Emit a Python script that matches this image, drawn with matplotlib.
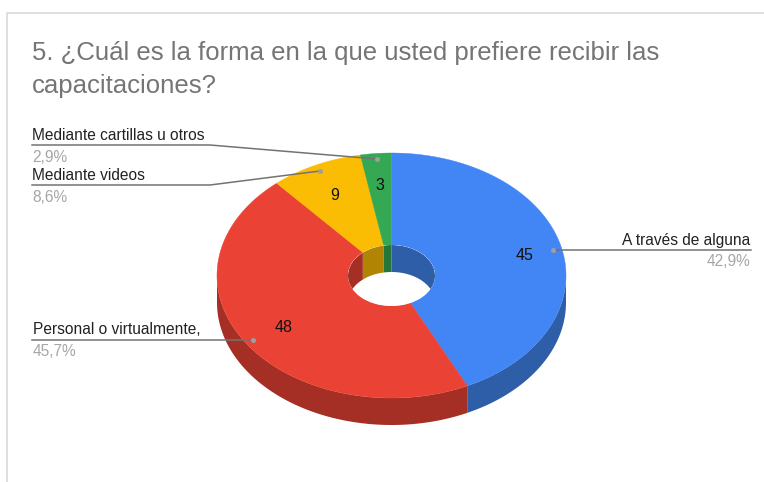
import numpy as np
import matplotlib
matplotlib.use("Agg")
import matplotlib.pyplot as plt
from matplotlib.patches import Ellipse

plt.rcParams['font.family'] = ['Liberation Sans', 'DejaVu Sans']

categories = ['A través de alguna', 'Personal o virtualmente,', 'Mediante videos', 'Mediante cartillas u otros']
values = [45, 48, 9, 3]
percent_labels = ['42,9%', '45,7%', '8,6%', '2,9%']
top_colors = ['#4285f4', '#ea4335', '#fbbc04', '#34a853']
side_colors = ['#2f5ea9', '#a52f25', '#b18503', '#257639']
title = ['5. ¿Cuál es la forma en la que usted prefiere recibir las', 'capacitaciones?']

cx, cy = 391.5, 275.5
a, b = 174.5, 122.5
ha, hb = 43.5, 30.5
depth = 27

fig = plt.figure(figsize=(7.64, 4.82), dpi=100)
ax = fig.add_axes([0, 0, 1, 1])
ax.set_xlim(0, 764)
ax.set_ylim(482, 0)
ax.axis('off')


def arc(t0, t1, rx, ry, dy=0):
    t = np.radians(np.linspace(t0, t1, max(int(abs(t1 - t0)) * 2, 2)))
    return cx + rx * np.sin(t), cy + dy - ry * np.cos(t)


# card border
ax.plot([7, 7, 764], [482, 12.5, 12.5], color='#d9d9d9', lw=1.2)

ends = np.cumsum(values) / sum(values) * 360
starts = np.r_[0, ends[:-1]]

# outer wall, only the front half shows
for s, e, col in zip(starts, ends, side_colors):
    s2, e2 = max(s, 90), min(e, 270)
    if e2 <= s2:
        continue
    x, y = arc(s2, e2, a, b)
    x2, y2 = arc(e2, s2, a, b, depth)
    ax.fill(np.r_[x, x2], np.r_[y, y2], color=col, lw=0)

# top faces
for s, e, col in zip(starts, ends, top_colors):
    x, y = arc(s, e, a, b)
    x2, y2 = arc(e, s, ha, hb)
    ax.fill(np.r_[x, x2], np.r_[y, y2], color=col, lw=0.3)

# hole: white, then the far inner wall clipped to it
hole = Ellipse((cx, cy), 2 * ha, 2 * hb, fc='white', ec='none')
ax.add_patch(hole)
for s, e, col in zip(starts, ends, side_colors):
    for shift in (0, 360):
        s2, e2 = max(s - shift, -90), min(e - shift, 90)
        if e2 <= s2:
            continue
        x, y = arc(s2, e2, ha, hb)
        x2, y2 = arc(e2, s2, ha, hb, depth)
        poly = ax.fill(np.r_[x, x2], np.r_[y, y2], color=col, lw=0)[0]
        poly.set_clip_path(hole)

ax.text(32, 53, title[0], fontsize=18.5, color='#757575', va='center')
ax.text(32, 85.5, title[1], fontsize=18.5, color='#757575', va='center')

# value labels inside the slices
value_pos = [(524.5, 256), (283.5, 327), (335, 196), (380, 185)]
for v, (x, y) in zip(values, value_pos):
    ax.text(x, y, str(v), fontsize=11.5, color='#111111', ha='center', va='center')

# leader lines: label, percent, line points, dot
line_col = '#737373'
dot_col = '#9e9e9e'
leaders = [
    ([751, 590, 553], [250, 250, 250], 'right', 750, 240, 262),
    ([32, 200, 253], [340, 340, 340], 'left', 33, 330, 352),
    ([32, 210, 320], [185, 185, 171], 'left', 32, 175, 197),
    ([32, 210, 377], [145, 145, 159], 'left', 32, 135, 157),
]
for cat, pct, (lx, ly, ha_txt, tx, ty, py) in zip(categories, percent_labels, leaders):
    ax.plot(lx, ly, color=line_col, lw=1.1)
    ax.plot(lx[-1], ly[-1], 'o', color=dot_col, ms=3.6, mew=0)
    ax.text(tx, ty, cat, fontsize=11.2, color='#222222', ha=ha_txt, va='center')
    ax.text(tx, py, pct, fontsize=11.2, color='#a6a6a6', ha=ha_txt, va='center')

fig.savefig('out.png', dpi=100)
